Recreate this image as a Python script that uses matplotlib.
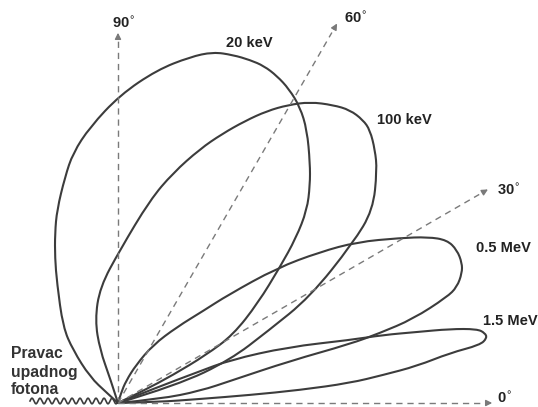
import numpy as np
import matplotlib
matplotlib.use('Agg')
import matplotlib.pyplot as plt
from matplotlib.path import Path
import matplotlib.patches as mpatches

plt.rcParams['font.family'] = ['Liberation Sans', 'DejaVu Sans']

# lobes (same units as pixels, origin at the scatter point)
lobe_20kev_x = [0, 25, 55, 88, 115, 140, 162, 178, 189, 192, 192, 189, 182, 171, 159, 146, 132, 115, 95,
                72, 39, 2, -28, -45, -53, -61, -63, -63, -61, -55, -45, -28, -11, 0]
lobe_20kev_y = [0, 12, 28, 48, 68, 100, 136, 165, 193, 218, 240, 273, 296, 314, 327, 337, 343, 348, 351,
                346, 333, 308, 276, 250, 226, 193, 170, 145, 120, 76, 53, 26, 10, 0]

lobe_100kev_x = [0, -8, -18, -23, -18, 2, 32, 55, 82, 104, 127, 149, 170, 192, 215, 232, 245, 252, 257,
                 259, 255, 235, 192, 150, 112, 60, 0]
lobe_100kev_y = [0, 25, 53, 83, 116, 153, 203, 230, 254, 269, 282, 292, 298, 301, 298, 293, 283, 273, 253,
                 233, 193, 160, 106, 72, 43, 18, 0]

lobe_05mev_x = [0, 3, 8, 18, 35, 59, 85, 110, 159, 202, 239, 282, 310, 329, 339, 344, 344, 339, 329, 295,
                262, 232, 172, 115, 82, 42, 0]
lobe_05mev_y = [0, 10, 22, 38, 58, 76, 92, 108, 135, 151, 161, 165, 166, 163, 153, 140, 130, 116, 106, 84,
                70, 59, 42, 23, 12, 4, 0]

lobe_15mev_x = [0, 40, 80, 112, 170, 232, 265, 299, 332, 359, 367, 369, 362, 332, 299, 265, 232, 182, 132,
                82, 40, 0]
lobe_15mev_y = [0, 16, 31, 43, 56, 63, 68, 71, 74, 74, 70, 65, 58, 50, 37, 28, 20, 13, 8, 4, 1, 0]

lobe_labels = ['20 keV', '100 keV', '0.5 MeV', '1.5 MeV']
label_pos = [(131, 360), (286, 283), (385, 155), (392, 82)]

axis_angles = [0, 30, 60, 90]
axis_lengths = [377, 430, 441, 373]


def smooth_path(xs, ys):
    # traced points used as quadratic control points, curve runs through the midpoints
    pts = np.column_stack([xs, ys]).astype(float)
    verts = [pts[0]]
    codes = [Path.MOVETO]
    for i in range(1, len(pts) - 1):
        end = pts[i + 1] if i == len(pts) - 2 else (pts[i] + pts[i + 1]) / 2
        verts += [pts[i], end]
        codes += [Path.CURVE3, Path.CURVE3]
    return Path(verts, codes)


fig = plt.figure(figsize=(5.38, 4.07), dpi=100)
ax = fig.add_axes([0, 0, 1, 1])
ax.set_xlim(-118, 420)
ax.set_ylim(-4, 403)
ax.set_aspect('equal')
ax.axis('off')

dash_col = '#7a7a7a'
for ang, L in zip(axis_angles, axis_lengths):
    a = np.deg2rad(ang)
    ex, ey = L * np.cos(a), L * np.sin(a)
    ax.plot([0, ex * 0.97], [0, ey * 0.97], ls=(0, (4.5, 3.5)), lw=1.0, color=dash_col)
    ax.annotate('', xy=(ex, ey), xytext=(ex - 12 * np.cos(a), ey - 12 * np.sin(a)),
                arrowprops=dict(arrowstyle='-|>', color=dash_col, lw=1.0, mutation_scale=9))

txt = dict(fontsize=10.5, fontweight='bold', color='#222')
ax.text(6, 375, r'90$^{\circ}$', ha='center', va='baseline', **txt)
ax.text(238, 380, r'60$^{\circ}$', ha='center', va='baseline', **txt)
ax.text(391, 208, r'30$^{\circ}$', ha='center', va='baseline', **txt)
ax.text(379, 0, r'0$^{\circ}$', ha='left', va='baseline', **txt)

line_col = '#3c3c3c'
for xs, ys in [(lobe_20kev_x, lobe_20kev_y), (lobe_100kev_x, lobe_100kev_y),
               (lobe_05mev_x, lobe_05mev_y), (lobe_15mev_x, lobe_15mev_y)]:
    ax.add_patch(mpatches.PathPatch(smooth_path(xs, ys), facecolor='none', edgecolor=line_col,
                                    lw=1.5, joinstyle='round', capstyle='round'))

for lab, (tx, ty) in zip(lobe_labels, label_pos):
    ax.text(tx, ty, lab, ha='center', va='center', **txt)

# incoming photon (wavy line)
wx = np.linspace(-88, 0, 400)
ax.plot(wx, 2.8 * np.sin(2 * np.pi * wx / 8.0) + 2, color=line_col, lw=1.2)

ptxt = dict(ha='left', va='center', fontsize=11.3, fontweight='bold', color='#333')
ax.text(-107, 50, 'Pravac', **ptxt)
ax.text(-107, 31, 'upadnog', **ptxt)
ax.text(-107, 14, 'fotona', **ptxt)

fig.savefig('out.png', dpi=100, facecolor='white')
